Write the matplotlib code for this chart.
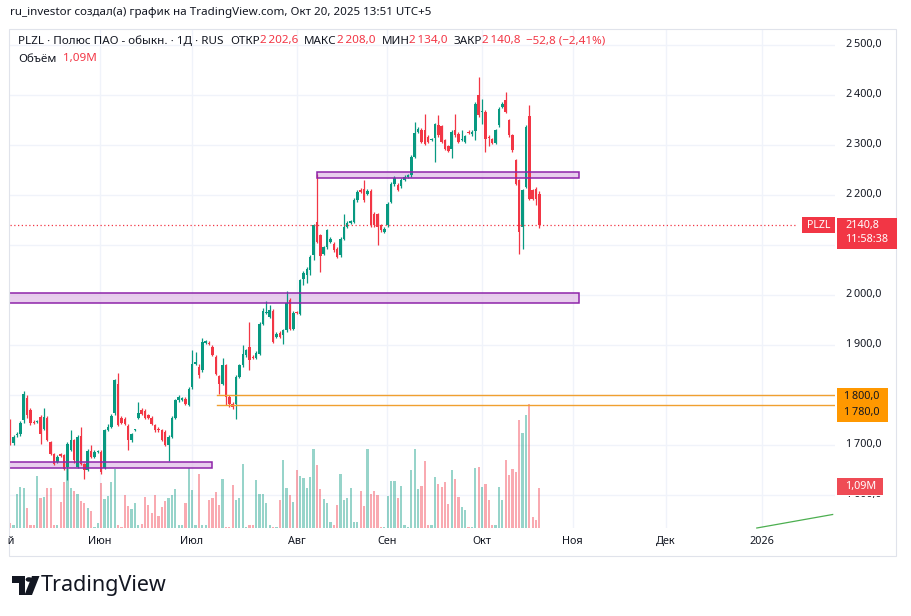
import matplotlib
matplotlib.use("Agg")
import matplotlib.pyplot as plt
from matplotlib.patches import Rectangle, Polygon, Circle
from matplotlib.transforms import Bbox

W, H = 912, 616
FONT = ["Noto Sans", "DejaVu Sans"]
plt.rcParams['font.family'] = FONT

# ---------------- data ----------------
# daily candles, PLZL, early May .. Oct 20 2025 (index = bar number)
opens = [1745, 1704, 1720, 1722, 1750, 1794, 1770, 1747, 1746, 1757,
         1733, 1755, 1707, 1682, 1667, 1682, 1680, 1657, 1690, 1710,
         1657, 1718, 1663, 1650, 1689, 1677, 1687, 1687, 1654, 1730,
         1737, 1764, 1823, 1755, 1753, 1739, 1710, 1730, 1755, 1770,
         1769, 1760, 1755, 1740, 1733, 1730, 1727, 1700, 1717, 1755,
         1790, 1790, 1793, 1780, 1817, 1863, 1857, 1850, 1905, 1905,
         1897, 1877, 1838, 1823, 1860, 1797, 1783, 1783, 1837, 1860,
         1880, 1897, 1877, 1875, 1883, 1942, 1965, 1957, 1969, 1917,
         1925, 1920, 1930, 1990, 1933, 1965, 1963, 2033, 2040, 2050,
         2080, 2147, 2120, 2083, 2097, 2107, 2103, 2093, 2080, 2113,
         2137, 2145, 2147, 2190, 2211, 2213, 2203, 2209, 2163, 2162,
         2140, 2127, 2140, 2187, 2222, 2220, 2218, 2231, 2237, 2240,
         2277, 2327, 2331, 2330, 2317, 2311, 2315, 2340, 2338, 2310,
         2298, 2293, 2330, 2323, 2311, 2307, 2327, 2322, 2329, 2400,
         2367, 2367, 2317, 2312, 2305, 2340, 2377, 2391, 2350, 2320,
         2270, 2230, 2137, 2217, 2358, 2210, 2213, 2202.6]
highs = [1752, 1720, 1726, 1748, 1808, 1800, 1775, 1750, 1750, 1760,
         1775, 1758, 1709, 1685, 1680, 1684, 1682, 1706, 1730, 1712,
         1720, 1737, 1665, 1692, 1700, 1690, 1690, 1690, 1733, 1742,
         1762, 1833, 1845, 1758, 1756, 1742, 1725, 1733, 1787, 1775,
         1772, 1763, 1758, 1743, 1736, 1733, 1730, 1720, 1758, 1793,
         1800, 1797, 1797, 1816, 1890, 1887, 1862, 1915, 1910, 1908,
         1900, 1880, 1841, 1875, 1863, 1800, 1786, 1840, 1862, 1900,
         1893, 1947, 1880, 1888, 1946, 1975, 1989, 1980, 1972, 1926,
         1928, 1933, 2009, 1995, 1968, 1968, 2033, 2048, 2056, 2080,
         2143, 2243, 2123, 2099, 2133, 2116, 2106, 2096, 2116, 2163,
         2148, 2150, 2194, 2210, 2214, 2231, 2212, 2212, 2166, 2165,
         2143, 2136, 2186, 2226, 2238, 2224, 2234, 2240, 2243, 2280,
         2347, 2336, 2334, 2363, 2320, 2315, 2345, 2360, 2341, 2313,
         2301, 2330, 2363, 2326, 2330, 2321, 2330, 2330, 2386, 2437,
         2393, 2370, 2320, 2315, 2333, 2377, 2386, 2407, 2353, 2323,
         2273, 2233, 2213, 2340, 2380, 2213, 2216, 2208]
lows = [1700, 1700, 1716, 1718, 1745, 1755, 1740, 1742, 1744, 1703,
        1730, 1708, 1680, 1660, 1664, 1676, 1650, 1630, 1688, 1665,
        1655, 1660, 1633, 1648, 1675, 1675, 1685, 1643, 1652, 1728,
        1735, 1760, 1738, 1743, 1741, 1690, 1706, 1728, 1752, 1760,
        1752, 1752, 1740, 1727, 1727, 1708, 1698, 1669, 1714, 1752,
        1786, 1788, 1780, 1778, 1812, 1860, 1835, 1846, 1902, 1900,
        1878, 1840, 1803, 1820, 1780, 1777, 1772, 1753, 1834, 1857,
        1877, 1851, 1872, 1872, 1880, 1940, 1962, 1954, 1904, 1914,
        1914, 1903, 1927, 1930, 1930, 1962, 1960, 2020, 2025, 2040,
        2070, 2104, 2047, 2080, 2093, 2104, 2087, 2074, 2077, 2110,
        2134, 2143, 2144, 2187, 2204, 2187, 2200, 2137, 2137, 2100,
        2127, 2124, 2137, 2184, 2219, 2208, 2215, 2228, 2234, 2237,
        2274, 2324, 2304, 2300, 2304, 2308, 2267, 2317, 2304, 2290,
        2286, 2275, 2317, 2304, 2308, 2304, 2322, 2319, 2310, 2357,
        2343, 2287, 2298, 2302, 2302, 2337, 2374, 2364, 2317, 2287,
        2220, 2083, 2093, 2214, 2190, 2190, 2180, 2134]
closes = [1712, 1716, 1722, 1744, 1803, 1760, 1745, 1745, 1748, 1723,
          1757, 1710, 1683, 1663, 1677, 1679, 1653, 1703, 1710, 1670,
          1717, 1663, 1650, 1689, 1677, 1687, 1688, 1647, 1730, 1737,
          1758, 1830, 1740, 1745, 1743, 1710, 1722, 1731, 1765, 1763,
          1755, 1755, 1743, 1730, 1730, 1711, 1700, 1717, 1755, 1790,
          1797, 1795, 1783, 1813, 1863, 1867, 1840, 1907, 1908, 1902,
          1880, 1843, 1823, 1860, 1797, 1783, 1777, 1837, 1860, 1883,
          1890, 1870, 1874, 1885, 1943, 1969, 1966, 1971, 1907, 1923,
          1917, 1930, 1985, 1933, 1965, 1964, 2030, 2045, 2053, 2077,
          2140, 2107, 2078, 2097, 2130, 2113, 2090, 2077, 2113, 2137,
          2145, 2148, 2191, 2207, 2207, 2190, 2209, 2140, 2140, 2137,
          2130, 2133, 2183, 2223, 2235, 2211, 2231, 2237, 2240, 2277,
          2325, 2333, 2307, 2303, 2307, 2312, 2342, 2320, 2307, 2293,
          2289, 2327, 2320, 2307, 2312, 2318, 2325, 2327, 2383, 2360,
          2368, 2313, 2315, 2305, 2330, 2373, 2383, 2367, 2320, 2290,
          2223, 2127, 2210, 2337, 2193, 2193, 2193, 2140.8]
# volume, millions
volumes = [0.13, 0.07, 0.94, 1.13, 1.08, 0.54, 0.08, 0.09, 1.43, 0.82,
           0.84, 1.10, 1.10, 0.07, 0.07, 0.70, 1.25, 1.62, 1.10, 1.01,
           0.92, 0.73, 0.68, 0.54, 0.47, 0.04, 0.13, 1.23, 0.79, 0.87,
           1.25, 1.62, 0.07, 0.04, 0.89, 0.60, 0.51, 0.68, 0.07, 0.11,
           0.85, 0.63, 0.40, 0.89, 0.32, 0.57, 0.73, 0.82, 0.89, 1.06,
           0.07, 0.07, 0.68, 1.64, 1.04, 0.07, 1.48, 0.07, 0.07, 0.77,
           0.82, 0.98, 0.63, 1.34, 0.04, 0.04, 1.17, 0.75, 0.82, 1.74,
           0.04, 0.07, 0.07, 1.30, 0.94, 0.94, 0.68, 0.07, 0.04, 0.04,
           0.77, 1.86, 1.08, 0.89, 0.70, 1.58, 1.43, 1.36, 1.10, 1.39,
           2.14, 1.72, 1.06, 0.79, 0.68, 0.16, 0.07, 0.63, 1.48, 0.77,
           0.82, 1.08, 0.16, 0.16, 1.01, 0.60, 2.14, 0.92, 1.01, 0.90,
           0.04, 0.04, 0.88, 1.29, 1.29, 0.82, 1.15, 0.09, 0.02, 1.58,
           2.15, 1.05, 1.15, 1.82, 0.07, 0.07, 1.40, 1.20, 1.13, 1.24,
           0.65, 1.59, 1.33, 0.85, 0.58, 0.49, 0.04, 0.04, 1.64, 1.67,
           1.13, 1.20, 0.77, 0.09, 0.09, 1.13, 0.77, 1.86, 1.45, 1.61,
           1.52, 2.94, 2.60, 3.09, 3.38, 0.31, 0.22, 1.09]

month_labels = ["Май", "Июн", "Июл", "Авг", "Сен", "Окт", "Ноя", "Дек", "2026"]
month_pos = [-2.1, 26.7, 53.9, 85.1, 111.8, 140.0, 166.9, 194.6, 223.0]
price_ticks = [1600, 1700, 1900, 2000, 2100, 2200, 2300, 2400, 2500]

# drawings on the chart (price levels)
box_top = (91, 168.8, 2234, 2247)      # x0, x1, y0, y1
box_mid = (-1, 168.8, 1985, 2004)
box_low = (-1, 60, 1655, 1667)
orange_levels = [1800, 1780]
orange_start = 61.5
trend_line = ([221.5, 244.0], [1534, 1561])

last_close = 2140.8
last_vol = "1,09M"
UP, DOWN = "#089981", "#f23645"


def fmt(v):
    s = f"{v:,.1f}".replace(",", "\u2009").replace(".", ",")
    return s


# ---------------- figure ----------------
fig = plt.figure(figsize=(W / 100, H / 100), dpi=100)
fig.patch.set_facecolor("white")


def px(x, y):
    return x / W, 1 - y / H


rect = [10 / W, 1 - 528 / H, 825 / W, 498 / H]
axv = fig.add_axes(rect, zorder=0)
ax = fig.add_axes(rect, zorder=1)
ax.patch.set_visible(False)
XL = (-0.05, 244.7)
YL = (1534, 2530)
for a in (ax, axv):
    a.set_xlim(*XL)
    for s in a.spines.values():
        s.set_visible(False)
    a.set_xticks([])
    a.set_yticks([])
ax.set_ylim(*YL)
axv.set_ylim(0, 498 / 36.7)

# grid
for p in price_ticks + [1800]:
    axv.plot([0, 1], [p, p], color="#f0f3fa", lw=1, transform=ax.get_yaxis_transform(), zorder=0)
for m in month_pos[1:]:
    axv.axvline(m, color="#f0f3fa", lw=1, zorder=0)

# volume
n = len(closes)
for i in range(n):
    up = closes[i] >= opens[i]
    axv.bar(i, volumes[i], width=0.66, color=UP if up else DOWN, alpha=0.42,
            linewidth=0, zorder=1)

# candles
for i in range(n):
    up = closes[i] >= opens[i]
    c = UP if up else DOWN
    ax.plot([i, i], [lows[i], highs[i]], color=c, lw=0.9, zorder=3, solid_capstyle="butt")
    lo, hi = min(opens[i], closes[i]), max(opens[i], closes[i])
    ax.add_patch(Rectangle((i - 0.37, lo), 0.74, max(hi - lo, 1.5), facecolor=c,
                           edgecolor="none", zorder=4))

# drawings
for (x0, x1, y0, y1) in (box_top, box_mid, box_low):
    ax.add_patch(Rectangle((x0, y0), x1 - x0, y1 - y0, facecolor="#e1bee7", alpha=0.75,
                           edgecolor="none", zorder=2))
    ax.add_patch(Rectangle((x0, y0), x1 - x0, y1 - y0, facecolor="none",
                           edgecolor="#8e24aa", lw=1.1, zorder=5))
for lvl in orange_levels:
    ax.plot([orange_start, XL[1]], [lvl, lvl], color="#f0a030", lw=1.0, zorder=5)
ax.plot(trend_line[0], trend_line[1], color="#4caf50", lw=0.9, zorder=5, clip_on=False)

# last price dotted line
ax.plot([XL[0], 233.0], [last_close, last_close], color=DOWN, lw=0.9, ls=(0, (1, 2)), zorder=5)

# ---------------- price scale ----------------
def yp(p):
    return 45 + (2500 - p) * 0.5


# parts of the scale hidden behind the label boxes
hidden = {2100: 249.5, 1600: 495.5}
for p in price_ticks:
    t = fig.text(*px(846, yp(p)), fmt(p), fontsize=7.8, color="#131722", va="center", ha="left")
    if p in hidden:
        t.set_clip_box(Bbox.from_extents(830, 0, W, H - hidden[p]))
        t.set_clip_on(True)

# orange level labels
fig.patches.append(Rectangle(px(837, 422), 51 / W, 34 / H, transform=fig.transFigure,
                             facecolor="#ff9800", edgecolor="none", zorder=5))
fig.text(*px(844, 396), fmt(orange_levels[0]), fontsize=7.8, color="#131722", va="center", zorder=6)
fig.text(*px(844, 413), fmt(orange_levels[1]), fontsize=7.8, color="#131722", va="center", zorder=6)

# volume label
fig.patches.append(Rectangle(px(837, 495), 46 / W, 17 / H, transform=fig.transFigure,
                             facecolor="#ef4b55", edgecolor="none", zorder=5))
fig.text(*px(845, 487), last_vol, fontsize=7.8, color="white", va="center", zorder=6)

# last price label
fig.patches.append(Rectangle(px(802, 233), 33 / W, 16 / H, transform=fig.transFigure,
                             facecolor=DOWN, edgecolor="none", zorder=5))
fig.text(*px(818.5, 225.5), "PLZL", fontsize=7.6, color="white", va="center", ha="center",
         weight="bold", zorder=6)
fig.patches.append(Rectangle(px(837, 249), 60 / W, 31 / H, transform=fig.transFigure,
                             facecolor=DOWN, edgecolor="none", zorder=5))
fig.text(*px(845, 225.5), "2140,8", fontsize=7.8, color="white", va="center", weight="bold", zorder=6)
fig.text(*px(845, 240), "11:58:38", fontsize=7.8, color="white", va="center", zorder=6)

# ---------------- time scale ----------------
clip = Bbox.from_extents(8, 0, 835, H)
for lab, pos in zip(month_labels, month_pos):
    xd = ax.transData.transform((pos, 0))[0]
    t = fig.text(xd / W, 1 - 541 / H, lab, fontsize=7.8, color="#131722", ha="center", va="center")
    t.set_clip_box(clip)
    t.set_clip_on(True)

# chart frame
fig.patches.append(Rectangle(px(9.5, 556), 887 / W, 527 / H, transform=fig.transFigure,
                             facecolor="none", edgecolor="#e0e3eb", lw=0.8, zorder=1))

# ---------------- header / legend ----------------
renderer = fig.canvas.get_renderer()


def run_text(x, y, parts, size):
    for s, col, gap in parts:
        t = fig.text(*px(x, y), s, fontsize=size, color=col, va="center", ha="left")
        x += t.get_window_extent(renderer).width + gap


fig.text(*px(10, 12), "ru_investor создал(а) график на TradingView.com, Окт 20, 2025 13:51 UTC+5",
         fontsize=8.35, color="#131722", va="center")
DK, RD = "#131722", "#f23645"
run_text(18, 41, [("PLZL · Полюс ПАО - обыкн. · 1Д · RUS", DK, 7),
                  ("ОТКР", DK, 0), ("2\u2009202,6", RD, 6),
                  ("МАКС", DK, 0), ("2\u2009208,0", RD, 6),
                  ("МИН", DK, 0), ("2\u2009134,0", RD, 6),
                  ("ЗАКР", DK, 0), ("2\u2009140,8", RD, 5),
                  ("−52,8 (−2,41%)", RD, 0)], 8.4)
run_text(18, 59, [("Объём", DK, 7), ("1,09M", RD, 0)], 8.4)

# ---------------- TradingView logo ----------------
logo = [
    Polygon([px(12, 576), px(25, 576), px(25, 595), px(18.5, 595), px(18.5, 582.5), px(12, 582.5)], closed=True),
    Circle(px(29, 579.5), 3.4 / W),
    Polygon([px(32, 576), px(39.5, 576), px(32, 595), px(24.5, 595)], closed=True),
]
for patch in logo:
    patch.set_transform(fig.transFigure)
    patch.set_facecolor("#131722")
    patch.set_edgecolor("none")
    fig.patches.append(patch)
fig.text(*px(41, 585.5), "TradingView", fontsize=15.5, weight="bold", color="#131722", va="center")

fig.savefig("out.png", dpi=100, facecolor="white")
